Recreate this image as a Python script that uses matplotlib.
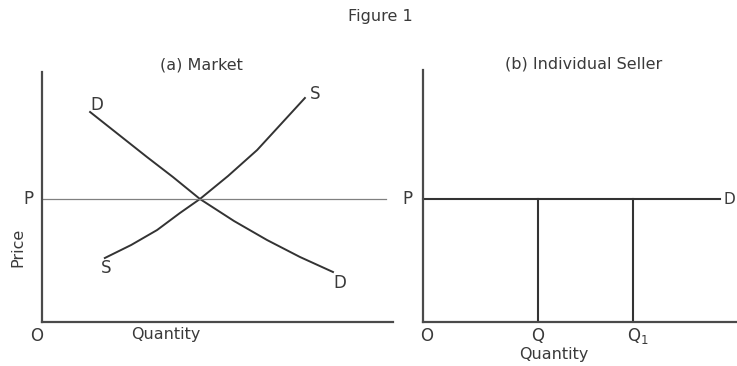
import matplotlib.pyplot as plt

# Panel (a): market demand and supply (quantity 0-10, price 0-10)
demand_q = [1.37, 2.99, 3.73, 4.50, 5.47, 6.41, 7.35, 8.29]
demand_p = [8.40, 6.60, 5.80, 4.92, 4.04, 3.28, 2.60, 2.00]
supply_q = [1.79, 2.54, 3.28, 3.93, 4.50, 5.30, 6.13, 6.81, 7.49]
supply_p = [2.56, 3.08, 3.68, 4.36, 4.92, 5.84, 6.88, 7.92, 8.96]
price_level = 4.92

# Panel (b): individual seller
seller_q = [3.66, 6.69]
seller_q_labels = ['Q', 'Q$_1$']
seller_d_end = 9.46

line_col = '#333333'
axis_col = '#4a4a4a'
txt_col = '#3a3a3a'
fs_word = 11.5
fs_letter = 12

fig = plt.figure(figsize=(7.37, 3.66), dpi=100)
fig.text(380 / 737, 1 - 17 / 366, 'Figure 1', ha='center', va='center', fontsize=fs_word, color=txt_col)

# ---- (a) Market
ax1 = fig.add_axes([42 / 737, 44 / 366, 351 / 737, 250 / 366])
ax1.set_xlim(0, 10)
ax1.set_ylim(0, 10)
ax1.plot(demand_q, demand_p, color=line_col, lw=1.4)
ax1.plot(supply_q, supply_p, color=line_col, lw=1.4)
ax1.plot([0, 9.8], [price_level, price_level], color='#808080', lw=0.9, clip_on=False)

ax1.text(1.56, 8.68, 'D', ha='center', va='center', fontsize=fs_letter, color=txt_col)
ax1.text(8.49, 1.56, 'D', ha='center', va='center', fontsize=fs_letter, color=txt_col)
ax1.text(7.78, 9.12, 'S', ha='center', va='center', fontsize=fs_letter, color=txt_col)
ax1.text(1.82, 2.16, 'S', ha='center', va='center', fontsize=fs_letter, color=txt_col)
ax1.text(-0.4, price_level, 'P', ha='center', va='center', fontsize=fs_letter, color=txt_col, clip_on=False)
ax1.text(-0.14, -0.56, 'O', ha='center', va='center', fontsize=fs_letter, color=txt_col, clip_on=False)
ax1.text(3.53, -0.52, 'Quantity', ha='center', va='center', fontsize=fs_word, color=txt_col, clip_on=False)
ax1.text(-0.68, 3.0, 'Price', ha='center', va='center', fontsize=fs_word, color=txt_col, rotation=90, clip_on=False)
ax1.text(4.53, 10.28, '(a) Market', ha='center', va='center', fontsize=fs_word, color=txt_col, clip_on=False)

# ---- (b) Individual seller
ax2 = fig.add_axes([423 / 737, 44 / 366, 314 / 737, 252 / 366])
ax2.set_xlim(0, 10)
ax2.set_ylim(0, 10.08)
ax2.plot([0, seller_d_end], [price_level, price_level], color=line_col, lw=1.5, clip_on=False)
for q, lab in zip(seller_q, seller_q_labels):
    ax2.plot([q, q], [0, price_level], color=line_col, lw=1.5)
    # subscripted label is anchored on its Q so the Q sits over the line
    ax2.text(q if lab == 'Q' else q - 0.2, -0.56, lab, ha='center' if lab == 'Q' else 'left',
             va='center', fontsize=fs_letter, color=txt_col, clip_on=False)
ax2.text(seller_d_end + 0.1, price_level, 'D', ha='left', va='center', fontsize=fs_letter - 1, color=txt_col, clip_on=False)
ax2.text(-0.48, price_level, 'P', ha='center', va='center', fontsize=fs_letter, color=txt_col, clip_on=False)
ax2.text(0.13, -0.56, 'O', ha='center', va='center', fontsize=fs_letter, color=txt_col, clip_on=False)
ax2.text(4.17, -1.32, 'Quantity', ha='center', va='center', fontsize=fs_word, color=txt_col, clip_on=False)
ax2.text(5.11, 10.32, '(b) Individual Seller', ha='center', va='center', fontsize=fs_word, color=txt_col, clip_on=False)

for ax in (ax1, ax2):
    ax.set_xticks([])
    ax.set_yticks([])
    ax.spines['top'].set_visible(False)
    ax.spines['right'].set_visible(False)
    for side in ('left', 'bottom'):
        ax.spines[side].set_color(axis_col)
        ax.spines[side].set_linewidth(1.6)
    ax.patch.set_alpha(0)

fig.savefig('out.png', dpi=100)
